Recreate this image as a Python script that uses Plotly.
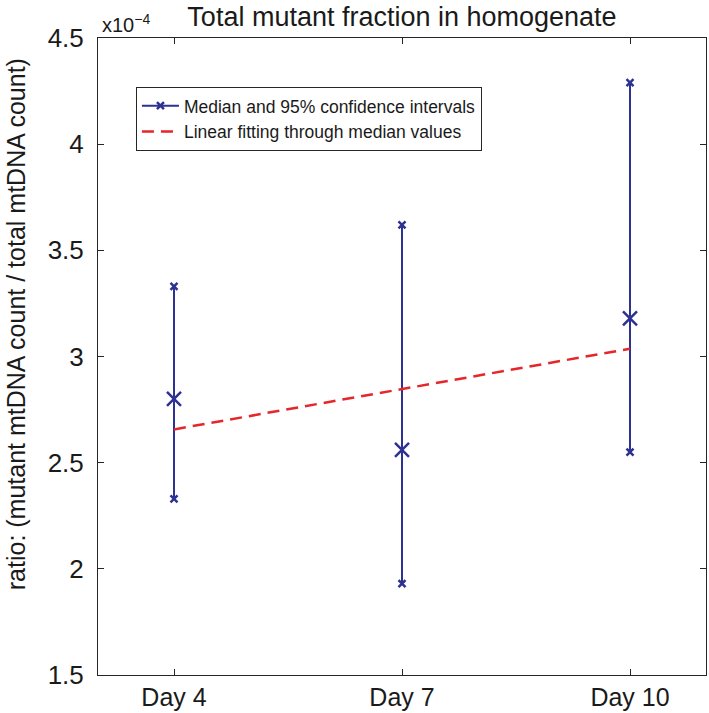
import numpy as np
import plotly.graph_objects as go

days = [4, 7, 10]
day_labels = ["Day 4", "Day 7", "Day 10"]
median_vals = [2.80, 2.56, 3.18]      # x1e-4
upper_ci = [3.33, 3.62, 4.29]         # x1e-4
lower_ci = [2.33, 1.93, 2.55]         # x1e-4
y_ticks = [1.5, 2, 2.5, 3, 3.5, 4, 4.5]

BLUE = "#2D3192"
RED = "#E5262A"
AX = "#262626"
TXT = "#1a1a1a"
FONT = "Liberation Sans"

W, H = 709, 713
ML, MR, MT, MB = 98, 2, 38, 36
PW = W - ML - MR
PH = H - MT - MB

seg_x, seg_y = [], []
for d, lo, hi in zip(days, lower_ci, upper_ci):
    seg_x += [d, d, None]
    seg_y += [lo, hi, None]

slope, intercept = np.polyfit(days, median_vals, 1)
fit_x = [days[0], days[-1]]
fit_y = [slope * v + intercept for v in fit_x]

fig = go.Figure()
fig.add_trace(go.Scatter(
    x=seg_x, y=seg_y, mode="lines+markers",
    name="Median and 95% confidence intervals",
    line=dict(color=BLUE, width=2),
    marker=dict(symbol="x-thin", size=7, line=dict(color=BLUE, width=2.5), color=BLUE),
))
fig.add_trace(go.Scatter(
    x=days, y=median_vals, mode="markers", showlegend=False,
    marker=dict(symbol="x-thin", size=14, line=dict(color=BLUE, width=2.5), color=BLUE),
))
fig.add_trace(go.Scatter(
    x=fit_x, y=fit_y, mode="lines",
    name="Linear fitting through median values",
    line=dict(color=RED, width=2.5, dash="12px,7px"),
))

fig.update_layout(
    width=W, height=H,
    margin=dict(l=ML, r=MR, t=MT, b=MB),
    paper_bgcolor="white", plot_bgcolor="white",
    font=dict(family=FONT, color=TXT),
    title=dict(text="Total mutant fraction in homogenate", x=0.5, xref="paper",
               y=1 - 17 / H, yanchor="middle", xanchor="center",
               font=dict(size=27, family=FONT, color=TXT)),
    legend=dict(x=(136 - 98) / PW, y=1 - (87 - 38) / PH, xanchor="left", yanchor="top",
                bordercolor=AX, borderwidth=1, bgcolor="white",
                font=dict(size=17.5, family=FONT, color=TXT),
                tracegroupgap=0, itemwidth=37),
    showlegend=True,
)
fig.update_xaxes(
    range=[3, 11], tickvals=days, ticktext=day_labels,
    showline=True, linecolor=AX, linewidth=1, mirror="ticks",
    ticks="inside", ticklen=6, tickcolor=AX, showgrid=False, zeroline=False,
    tickfont=dict(size=25, family=FONT, color=TXT),
)
fig.update_yaxes(
    range=[1.5, 4.5], tickvals=y_ticks,
    showline=True, linecolor=AX, linewidth=1, mirror="ticks",
    ticks="inside", ticklen=6, tickcolor=AX, showgrid=False, zeroline=False,
    tickfont=dict(size=26, family=FONT, color=TXT),
    ticklabelstandoff=8,
)
fig.add_annotation(
    text="ratio: (mutant mtDNA count / total mtDNA count)",
    xref="paper", yref="paper", x=(16 - 98) / PW, y=1 - (325 - 38) / PH,
    xanchor="center", yanchor="middle", textangle=-90, showarrow=False,
    font=dict(size=25, family=FONT, color=TXT),
)
fig.add_annotation(
    text="x10<sup>−4</sup>",
    xref="paper", yref="paper", x=0, y=1, xanchor="left", yanchor="bottom",
    xshift=2, yshift=0, showarrow=False,
    font=dict(size=20, family=FONT, color=TXT),
)

fig.write_html(
    "out.html",
    config={"displayModeBar": False, "staticPlot": True},
    post_script="document.body.style.margin='0';document.body.style.overflow='hidden';",
)
